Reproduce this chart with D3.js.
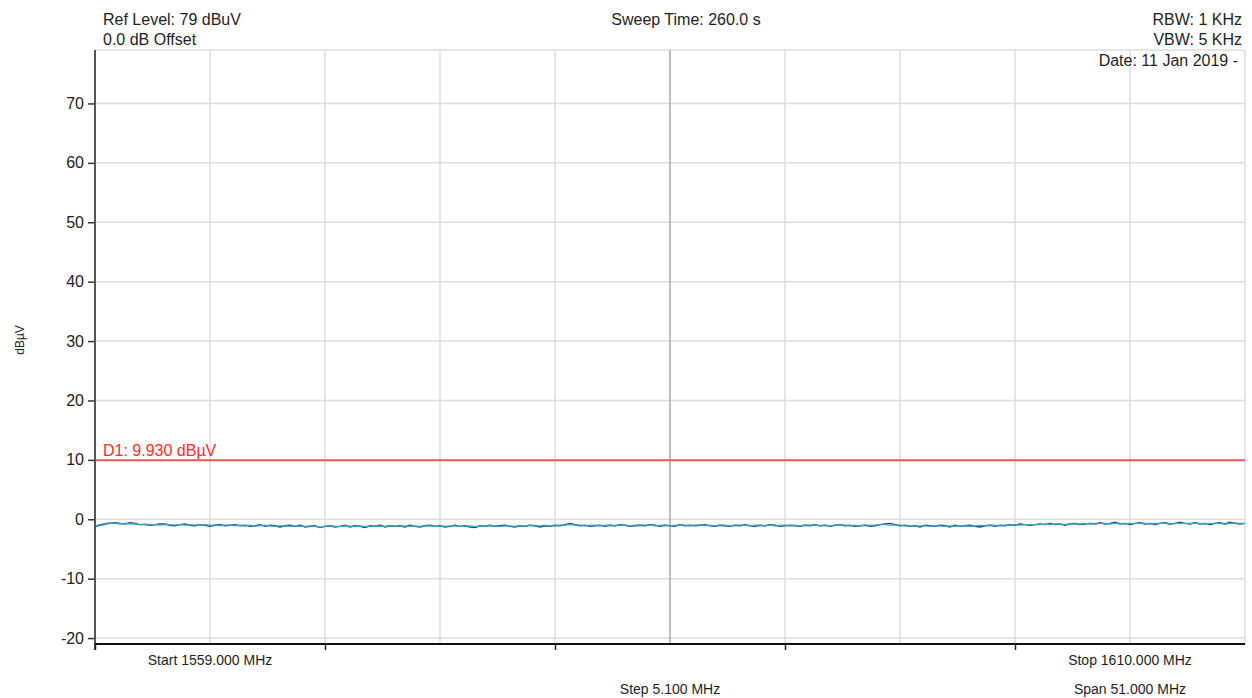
<!DOCTYPE html>
<html>
<head>
<meta charset="utf-8">
<script src="https://cdn.jsdelivr.net/npm/d3@7/dist/d3.min.js"></script>
<style>
  html, body { margin: 0; padding: 0; background: #fff; }
  svg { display: block; font-family: "Liberation Sans", Arial, sans-serif; }
</style>
</head>
<body>
<svg id="chart" width="1252" height="698"></svg>
<script>
// Spectrum analyser sweep settings
const startMHz = 1559.0;
const stopMHz = 1610.0;
const refLevel = 79;      // top of screen, dBuV
const dbPerDiv = 10;
const divisionsY = 10;
const divisionsX = 10;

// Y-axis tick values (dBuV)
const yTicks = [70, 60, 50, 40, 30, 20, 10, 0, -10, -20];

// Display line D1
const d1Level = 9.930;

// Header / footer annotations
const headerLeft = ["Ref Level: 79 dBuV", "0.0 dB Offset"];
const headerCenter = "Sweep Time: 260.0 s";
const headerRight = ["RBW: 1 KHz", "VBW: 5 KHz", "Date: 11 Jan 2019 -"];
const footerStart = "Start 1559.000 MHz";
const footerStop = "Stop 1610.000 MHz";
const footerStep = "Step 5.100 MHz";
const footerSpan = "Span 51.000 MHz";
const yLabel = "dBµV";

// Trace A (dark blue) levels in dBuV, equally spaced from start to stop
const traceA = [
  -1.2,-1.0,-0.8,-0.7,-0.6,-0.7,-0.8,-0.6,-0.7,-0.9,
  -0.9,-1.0,-0.9,-0.8,-0.8,-1.0,-1.1,-0.9,-0.8,-1.0,
  -1.1,-0.9,-1.0,-1.2,-1.0,-0.9,-1.1,-1.0,-0.9,-1.1,
  -1.0,-1.2,-1.1,-0.9,-1.2,-1.0,-1.1,-1.3,-1.1,-1.0,
  -1.2,-1.0,-1.3,-1.2,-1.1,-1.4,-1.2,-1.1,-1.3,-1.2,
  -1.0,-1.3,-1.1,-1.2,-1.4,-1.1,-1.2,-1.0,-1.3,-1.1,
  -1.2,-1.1,-1.3,-1.0,-1.2,-1.3,-1.1,-1.0,-1.2,-1.1,
  -1.3,-1.2,-1.0,-1.2,-1.1,-1.3,-1.4,-1.1,-1.2,-1.0,
  -1.2,-1.1,-1.0,-1.2,-1.3,-1.1,-1.2,-1.0,-1.1,-1.3,
  -1.1,-1.2,-1.0,-1.1,-0.9,-0.7,-0.9,-1.1,-1.0,-1.2,
  -1.1,-1.0,-1.2,-1.0,-1.1,-0.9,-1.0,-1.2,-1.1,-1.0,
  -1.1,-0.9,-1.0,-1.2,-1.0,-1.1,-1.2,-0.9,-1.1,-1.0,
  -1.1,-1.0,-0.9,-1.1,-1.2,-1.0,-1.1,-1.2,-1.0,-1.1,
  -0.9,-1.1,-1.2,-1.0,-1.1,-0.9,-1.0,-1.2,-1.1,-1.0,
  -1.1,-1.2,-1.0,-1.1,-0.9,-1.1,-1.0,-1.2,-1.0,-0.9,
  -1.1,-1.0,-1.2,-1.1,-1.0,-1.2,-1.1,-0.9,-0.8,-0.7,
  -0.9,-1.1,-1.0,-1.2,-1.1,-1.3,-1.0,-1.1,-1.2,-1.0,
  -1.1,-1.3,-1.0,-1.2,-1.1,-1.0,-1.2,-1.3,-1.1,-1.0,
  -1.2,-1.0,-1.1,-0.9,-1.0,-0.8,-0.9,-1.0,-0.9,-0.8,
  -0.9,-0.7,-0.9,-0.8,-1.0,-0.8,-0.7,-0.9,-0.8,-0.7,
  -0.8,-0.6,-0.8,-0.7,-0.5,-0.8,-0.7,-0.9,-0.7,-0.6,
  -0.8,-0.7,-0.9,-0.7,-0.6,-0.8,-0.7,-0.5,-0.7,-0.8,
  -0.6,-0.8,-0.7,-0.9,-0.7,-0.6,-0.8,-0.5,-0.7,-0.8,
  -0.7
];

// Trace B (teal) levels in dBuV, equally spaced from start to stop
const traceB = [
  -1.1,-0.9,-0.7,-0.6,-0.7,-0.8,-0.7,-0.8,-0.8,-0.9,
  -0.8,-0.9,-0.9,-1.0,-0.9,-0.9,-1.0,-0.9,-1.0,-0.9,
  -1.0,-1.0,-0.9,-1.0,-1.0,-1.1,-1.0,-1.0,-1.1,-1.0,
  -1.1,-1.0,-1.1,-1.1,-1.0,-1.1,-1.2,-1.1,-1.1,-1.2,
  -1.1,-1.2,-1.2,-1.1,-1.2,-1.3,-1.2,-1.1,-1.2,-1.2,
  -1.1,-1.2,-1.2,-1.1,-1.2,-1.2,-1.1,-1.2,-1.2,-1.1,
  -1.1,-1.2,-1.1,-1.2,-1.1,-1.2,-1.1,-1.1,-1.2,-1.1,
  -1.2,-1.1,-1.1,-1.2,-1.2,-1.1,-1.2,-1.2,-1.1,-1.1,
  -1.1,-1.2,-1.1,-1.1,-1.2,-1.1,-1.1,-1.0,-1.1,-1.1,
  -1.0,-1.1,-1.1,-1.0,-1.0,-0.9,-1.0,-1.0,-1.1,-1.0,
  -1.0,-1.1,-1.0,-1.0,-1.1,-1.0,-1.0,-1.1,-1.0,-1.0,
  -1.0,-1.0,-1.1,-1.0,-1.0,-1.1,-1.0,-1.0,-1.0,-1.1,
  -1.0,-1.0,-1.1,-1.0,-1.1,-1.0,-1.0,-1.1,-1.0,-1.0,
  -1.0,-1.1,-1.0,-1.0,-1.1,-1.0,-1.1,-1.0,-1.0,-1.1,
  -1.0,-1.1,-1.0,-1.0,-1.0,-1.1,-1.0,-1.1,-1.0,-1.0,
  -1.0,-1.1,-1.0,-1.1,-1.0,-1.0,-1.0,-0.9,-0.9,-1.0,
  -1.0,-1.0,-1.1,-1.1,-1.2,-1.1,-1.1,-1.2,-1.1,-1.1,
  -1.2,-1.1,-1.2,-1.1,-1.1,-1.2,-1.1,-1.0,-1.1,-1.0,
  -1.0,-1.1,-1.0,-1.0,-0.9,-1.0,-0.9,-0.9,-0.9,-0.9,
  -0.8,-0.9,-0.8,-0.8,-0.9,-0.8,-0.8,-0.8,-0.7,-0.8,
  -0.8,-0.7,-0.7,-0.8,-0.7,-0.7,-0.8,-0.7,-0.7,-0.7,
  -0.7,-0.8,-0.7,-0.7,-0.7,-0.8,-0.7,-0.7,-0.7,-0.7,
  -0.7,-0.7,-0.8,-0.7,-0.7,-0.7,-0.8,-0.7,-0.6,-0.7,
  -0.7
];

const svg = d3.select("#chart");
const margin = { left: 95, right: 7, top: 50, bottom: 54 };
const W = 1252, H = 698;
const plotW = W - margin.left - margin.right;
const plotH = H - margin.top - margin.bottom;

const x = d3.scaleLinear().domain([startMHz, stopMHz]).range([margin.left, margin.left + plotW]);
const y = d3.scaleLinear().domain([refLevel - dbPerDiv * divisionsY, refLevel]).range([margin.top + plotH, margin.top]);

const stepMHz = (stopMHz - startMHz) / divisionsX;
const xDivs = d3.range(divisionsX + 1).map(i => startMHz + i * stepMHz);

// Grid
const grid = svg.append("g");
grid.selectAll("line.h").data(yTicks.concat([refLevel])).join("line")
  .attr("x1", margin.left).attr("x2", margin.left + plotW)
  .attr("y1", d => y(d)).attr("y2", d => y(d))
  .attr("stroke", "#dcdcdc").attr("stroke-width", 1.5);
grid.selectAll("line.v").data(xDivs).join("line")
  .attr("x1", d => x(d)).attr("x2", d => x(d))
  .attr("y1", margin.top).attr("y2", margin.top + plotH)
  .attr("stroke", (d, i) => i === divisionsX / 2 ? "#a8a8a8" : "#dcdcdc")
  .attr("stroke-width", 1.5);

// Display line D1
svg.append("line")
  .attr("x1", margin.left).attr("x2", margin.left + plotW)
  .attr("y1", y(d1Level)).attr("y2", y(d1Level))
  .attr("stroke", "#f25a5a").attr("stroke-width", 2);
svg.append("text")
  .attr("x", margin.left + 8).attr("y", y(d1Level) - 4)
  .attr("fill", "#ff2a2a").attr("font-size", 16)
  .text("D1: " + d1Level.toFixed(3) + " dBµV");

// Traces: dark blue underneath, teal drawn over it
const line = d3.line()
  .x((d, i, arr) => x(startMHz + i * (stopMHz - startMHz) / (arr.length - 1)))
  .y(d => y(d));
svg.append("path").datum(traceA).attr("d", line)
  .attr("fill", "none").attr("stroke", "#3434a8").attr("stroke-width", 1.4);
svg.append("path").datum(traceB).attr("d", line)
  .attr("fill", "none").attr("stroke", "#2eb0b4").attr("stroke-width", 1.3).attr("opacity", 0.9);

// Left axis
const yAxis = d3.axisLeft(y).tickValues(yTicks).tickSize(7).tickPadding(4).tickFormat(d => String(d));
const gy = svg.append("g").attr("transform", `translate(${margin.left},0)`).call(yAxis);
gy.select(".domain").remove();
gy.selectAll(".tick line").attr("stroke", "#333").attr("stroke-width", 1.5);
gy.selectAll(".tick text").attr("font-size", 16).attr("fill", "#222")
  .attr("font-family", "'Liberation Sans', Arial, sans-serif");
svg.append("line")
  .attr("x1", margin.left).attr("x2", margin.left)
  .attr("y1", margin.top).attr("y2", margin.top + plotH + 6)
  .attr("stroke", "#555").attr("stroke-width", 2);

// Bottom axis
const xAxis = d3.axisBottom(x)
  .tickValues(xDivs.filter((d, i) => i % 2 === 0 && i < divisionsX))
  .tickSize(6).tickFormat("");
const gx = svg.append("g").attr("transform", `translate(0,${margin.top + plotH})`).call(xAxis);
gx.select(".domain").remove();
gx.selectAll(".tick line").attr("stroke", "#222").attr("stroke-width", 1.5);
svg.append("line")
  .attr("x1", margin.left).attr("x2", margin.left + plotW)
  .attr("y1", margin.top + plotH).attr("y2", margin.top + plotH)
  .attr("stroke", "#111").attr("stroke-width", 2);

// Y label
svg.append("text")
  .attr("transform", "translate(24,340) rotate(-90)")
  .attr("text-anchor", "middle").attr("font-size", 12).attr("fill", "#222")
  .text(yLabel);

// Header text
const txt = (str, px, py, anchor, size) => svg.append("text")
  .attr("x", px).attr("y", py).attr("text-anchor", anchor)
  .attr("font-size", size).attr("fill", "#1e1e1e").text(str);

txt(headerLeft[0], margin.left + 8, 25, "start", 16);
txt(headerLeft[1], margin.left + 8, 45, "start", 16);
txt(headerCenter, 686, 25, "middle", 16);
txt(headerRight[0], 1242, 25, "end", 16);
txt(headerRight[1], 1242, 45, "end", 16);
txt(headerRight[2], 1238, 66, "end", 16);

// Footer text
txt(footerStart, x(startMHz + stepMHz), 665, "middle", 14);
txt(footerStop, x(stopMHz - stepMHz), 665, "middle", 14);
txt(footerStep, x(startMHz + 5 * stepMHz), 694, "middle", 14);
txt(footerSpan, x(stopMHz - stepMHz), 694, "middle", 14);
</script>
</body>
</html>
